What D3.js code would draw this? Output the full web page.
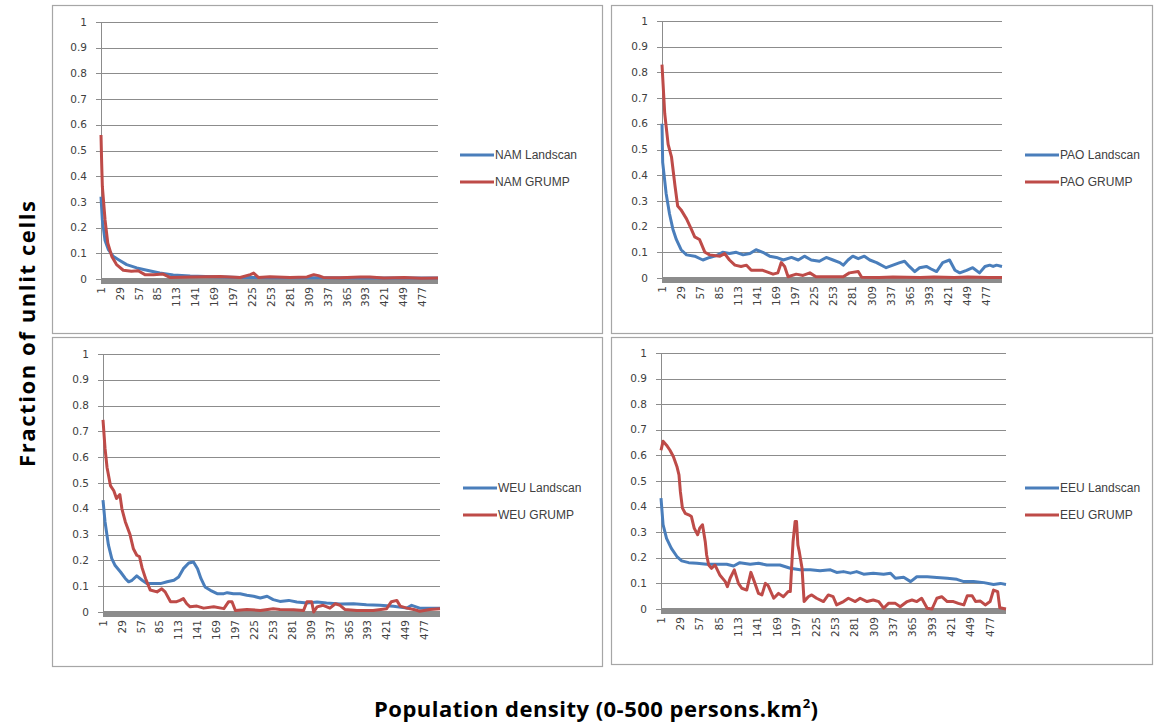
<!DOCTYPE html>
<html>
<head>
<meta charset="utf-8">
<script src="https://cdn.jsdelivr.net/npm/d3@7"></script>
<style>
  body { margin: 0; background: #fff; }
  svg { display: block; }
  .tick-label { font-family: "DejaVu Sans", sans-serif; font-size: 10.5px; fill: #404040; }
  .legend-label { font-family: "Liberation Sans", sans-serif; font-size: 12px; fill: #404040; }
  .title { font-family: "Open Sans", sans-serif; font-weight: bold; font-size: 22px; fill: #000; }
</style>
</head>
<body>
<div id="chart"></div>
<script>
// tick labels
const xTicks = [1, 29, 57, 85, 113, 141, 169, 197, 225, 253, 281, 309, 337, 365, 393, 421, 449, 477];
const yTicks = [0, 0.1, 0.2, 0.3, 0.4, 0.5, 0.6, 0.7, 0.8, 0.9, 1];

// series values: [population density, fraction of unlit cells]
const namLandscan = [[1,0.32],[3,0.23],[7,0.15],[12,0.114],[19,0.088],[27,0.075],[39,0.056],[54,0.043],[69,0.034],[88,0.023],[108,0.016],[133,0.012],[167,0.009],[207,0.006],[260,0.005],[320,0.005],[400,0.004],[460,0.004],[500,0.004]];
const namGrump = [[1,0.56],[2,0.45],[3,0.36],[7,0.23],[11,0.14],[17,0.088],[24,0.056],[34,0.034],[46,0.03],[56,0.032],[66,0.017],[79,0.017],[93,0.019],[103,0.006],[133,0.008],[177,0.01],[207,0.006],[222,0.017],[227,0.023],[234,0.006],[251,0.009],[281,0.006],[306,0.008],[316,0.017],[323,0.013],[330,0.006],[355,0.005],[385,0.008],[399,0.008],[420,0.004],[450,0.006],[475,0.003],[500,0.004]];

const paoLandscan = [[1,0.6],[2,0.45],[7,0.33],[12,0.25],[17,0.19],[22,0.15],[29,0.11],[37,0.09],[49,0.085],[61,0.07],[71,0.08],[81,0.087],[90,0.1],[100,0.095],[110,0.1],[120,0.09],[130,0.095],[139,0.11],[149,0.1],[159,0.085],[169,0.08],[179,0.07],[191,0.08],[201,0.07],[210,0.085],[220,0.07],[232,0.065],[242,0.08],[252,0.07],[262,0.06],[267,0.05],[274,0.07],[281,0.085],[289,0.075],[298,0.085],[306,0.07],[316,0.06],[330,0.04],[340,0.05],[350,0.06],[357,0.065],[364,0.045],[372,0.025],[379,0.04],[389,0.045],[396,0.035],[404,0.025],[413,0.06],[423,0.07],[431,0.03],[438,0.02],[448,0.03],[457,0.04],[467,0.02],[475,0.045],[482,0.05],[487,0.045],[492,0.05],[500,0.045]];
const paoGrump = [[1,0.83],[5,0.64],[10,0.52],[15,0.47],[20,0.36],[24,0.28],[29,0.265],[37,0.23],[44,0.19],[49,0.16],[56,0.15],[64,0.1],[71,0.09],[86,0.085],[93,0.095],[100,0.07],[108,0.05],[117,0.045],[125,0.05],[132,0.03],[149,0.03],[164,0.015],[171,0.02],[176,0.06],[181,0.045],[186,0.005],[198,0.015],[208,0.01],[218,0.02],[227,0.005],[257,0.005],[267,0.005],[276,0.02],[289,0.025],[294,0.003],[320,0.002],[340,0.004],[380,0.002],[400,0.004],[430,0.002],[450,0.004],[480,0.002],[500,0.002]];

const weuLandscan = [[1,0.434],[4,0.35],[9,0.26],[14,0.207],[19,0.18],[27,0.155],[34,0.13],[39,0.117],[44,0.123],[51,0.14],[59,0.123],[66,0.11],[76,0.11],[86,0.11],[96,0.117],[106,0.123],[113,0.136],[120,0.168],[128,0.19],[135,0.194],[141,0.168],[146,0.13],[152,0.097],[160,0.084],[170,0.071],[180,0.071],[185,0.075],[194,0.071],[204,0.071],[214,0.065],[224,0.061],[234,0.054],[244,0.061],[253,0.048],[263,0.041],[276,0.045],[288,0.039],[303,0.035],[318,0.039],[332,0.035],[352,0.031],[372,0.032],[391,0.028],[411,0.026],[431,0.022],[451,0.015],[458,0.026],[470,0.015],[485,0.015],[500,0.015]];
const weuGrump = [[1,0.745],[4,0.635],[7,0.56],[12,0.49],[17,0.47],[21,0.44],[26,0.455],[29,0.4],[34,0.35],[41,0.3],[46,0.245],[51,0.22],[55,0.215],[59,0.17],[64,0.13],[71,0.085],[81,0.078],[88,0.09],[93,0.078],[101,0.04],[110,0.04],[115,0.045],[120,0.052],[125,0.032],[130,0.02],[140,0.023],[150,0.015],[165,0.02],[180,0.013],[187,0.04],[192,0.04],[197,0.006],[214,0.01],[234,0.006],[253,0.013],[263,0.01],[283,0.009],[298,0.006],[303,0.04],[310,0.04],[313,0.0],[318,0.02],[327,0.026],[337,0.015],[345,0.032],[352,0.026],[359,0.01],[377,0.006],[401,0.006],[421,0.013],[428,0.04],[436,0.045],[441,0.023],[451,0.015],[461,0.01],[470,0.003],[485,0.01],[500,0.013]];

const eeuLandscan = [[1,0.433],[4,0.33],[9,0.276],[16,0.237],[24,0.205],[31,0.188],[41,0.181],[53,0.179],[67,0.175],[82,0.175],[96,0.175],[106,0.168],[115,0.181],[130,0.175],[142,0.179],[154,0.172],[173,0.172],[188,0.159],[202,0.153],[217,0.153],[231,0.149],[246,0.153],[255,0.143],[265,0.146],[275,0.14],[284,0.146],[294,0.136],[308,0.14],[323,0.136],[333,0.14],[340,0.12],[352,0.124],[362,0.107],[371,0.126],[386,0.126],[400,0.123],[415,0.12],[429,0.116],[439,0.107],[453,0.107],[468,0.103],[482,0.096],[492,0.1],[500,0.096]];
const eeuGrump = [[1,0.62],[4,0.655],[9,0.64],[14,0.62],[19,0.595],[24,0.557],[27,0.524],[29,0.459],[32,0.394],[36,0.374],[41,0.368],[45,0.361],[49,0.316],[54,0.29],[57,0.316],[61,0.329],[65,0.263],[67,0.211],[70,0.172],[74,0.159],[79,0.172],[86,0.133],[94,0.107],[97,0.087],[101,0.12],[107,0.153],[113,0.1],[118,0.081],[125,0.074],[131,0.143],[136,0.107],[142,0.061],[147,0.055],[152,0.1],[156,0.091],[164,0.042],[171,0.061],[178,0.048],[185,0.068],[188,0.068],[192,0.263],[195,0.342],[197,0.342],[199,0.25],[201,0.224],[205,0.159],[208,0.029],[214,0.048],[219,0.055],[226,0.042],[236,0.029],[243,0.055],[250,0.048],[255,0.016],[265,0.029],[272,0.042],[282,0.029],[289,0.042],[299,0.029],[308,0.035],[316,0.029],[323,0.003],[330,0.022],[340,0.022],[347,0.009],[357,0.029],[364,0.035],[371,0.029],[378,0.042],[386,0.003],[393,0.0],[400,0.042],[407,0.048],[415,0.029],[424,0.029],[431,0.022],[439,0.016],[444,0.052],[451,0.052],[456,0.029],[463,0.031],[470,0.016],[477,0.029],[482,0.074],[488,0.068],[491,0.005],[500,0.0]];

const seriesNames = [
  ["NAM Landscan", "NAM GRUMP"],
  ["PAO Landscan", "PAO GRUMP"],
  ["WEU Landscan", "WEU GRUMP"],
  ["EEU Landscan", "EEU GRUMP"]
];
const seriesData = [
  [namLandscan, namGrump],
  [paoLandscan, paoGrump],
  [weuLandscan, weuGrump],
  [eeuLandscan, eeuGrump]
];
const colors = ["#4a7ebb", "#be4b48"];

// panel frames and plot areas (pixels)
const panels = [
  { box: [52, 5, 550, 328],  plot: [101, 22, 438, 279],  legend: [460, 155] },
  { box: [611, 5, 541, 328], plot: [662, 21, 1002, 278], legend: [1025, 155] },
  { box: [52, 337, 550, 329], plot: [103, 354, 440, 612], legend: [463, 488] },
  { box: [611, 337, 541, 327], plot: [661, 353, 1006, 609], legend: [1025, 488] }
];

const svg = d3.select("#chart").append("svg")
  .attr("width", 1154)
  .attr("height", 727);

panels.forEach((p, i) => {
  const g = svg.append("g");
  const [x0, y0, x1, y1] = p.plot;

  g.append("rect")
    .attr("x", p.box[0] + 0.5).attr("y", p.box[1] + 0.5)
    .attr("width", p.box[2]).attr("height", p.box[3])
    .attr("fill", "#fff")
    .attr("stroke", "#a6a6a6")
    .attr("stroke-width", 1.2);

  const x = d3.scaleLinear().domain([1, 500]).range([x0, x1]);
  const y = d3.scaleLinear().domain([0, 1]).range([y1, y0]);

  // gridlines
  g.selectAll(".grid")
    .data(yTicks.filter(t => t > 0))
    .enter().append("line")
    .attr("x1", x0 - 5).attr("x2", x1)
    .attr("y1", d => Math.round(y(d)) + 0.5)
    .attr("y2", d => Math.round(y(d)) + 0.5)
    .attr("stroke", "#8c8c8c")
    .attr("stroke-width", 1);

  // y axis line
  g.append("line")
    .attr("x1", x0 + 0.5).attr("x2", x0 + 0.5)
    .attr("y1", y0).attr("y2", y1 + 5)
    .attr("stroke", "#8c8c8c");

  // thick grey category axis
  g.append("rect")
    .attr("x", x0).attr("y", y(0) - 1)
    .attr("width", x1 - x0).attr("height", 6)
    .attr("fill", "#8c8c8c");
  g.append("line")
    .attr("x1", x0 - 5).attr("x2", x0)
    .attr("y1", Math.round(y(0)) + 0.5).attr("y2", Math.round(y(0)) + 0.5)
    .attr("stroke", "#8c8c8c");

  g.selectAll(".ylab")
    .data(yTicks)
    .enter().append("text")
    .attr("class", "tick-label")
    .attr("x", x0 - 14)
    .attr("y", d => y(d))
    .attr("dy", "0.35em")
    .attr("text-anchor", "end")
    .text(d => d3.format("~g")(d));

  g.selectAll(".xlab")
    .data(xTicks)
    .enter().append("text")
    .attr("class", "tick-label")
    .attr("transform", d => `translate(${x(d)},${y(0) + 8}) rotate(-90)`)
    .attr("dy", "0.35em")
    .attr("text-anchor", "end")
    .text(d => d);

  const line = d3.line()
    .x(d => x(d[0]))
    .y(d => y(d[1]));

  seriesData[i].forEach((s, k) => {
    g.append("path")
      .datum(s)
      .attr("d", line)
      .attr("fill", "none")
      .attr("stroke", colors[k])
      .attr("stroke-width", 3)
      .attr("stroke-linejoin", "round");
  });

  // legend
  seriesNames[i].forEach((name, k) => {
    const ly = p.legend[1] + k * 27;
    g.append("line")
      .attr("x1", p.legend[0]).attr("x2", p.legend[0] + 34)
      .attr("y1", ly).attr("y2", ly)
      .attr("stroke", colors[k])
      .attr("stroke-width", 3);
    g.append("text")
      .attr("class", "legend-label")
      .attr("x", p.legend[0] + 35)
      .attr("y", ly)
      .attr("dy", "0.35em")
      .text(name);
  });
});

svg.append("text")
  .attr("class", "title")
  .attr("transform", "translate(35,334) rotate(-90)")
  .attr("text-anchor", "middle")
  .attr("textLength", 266)
  .attr("lengthAdjust", "spacing")
  .text("Fraction of unlit cells");

const xt = svg.append("text")
  .attr("class", "title")
  .attr("x", 596)
  .attr("y", 717)
  .attr("text-anchor", "middle")
  .attr("textLength", 444)
  .attr("lengthAdjust", "spacing");
xt.append("tspan").text("Population density (0-500 persons.km");
xt.append("tspan").attr("baseline-shift", "super").attr("font-size", "13px").text("2");
xt.append("tspan").text(")");
</script>
</body>
</html>
